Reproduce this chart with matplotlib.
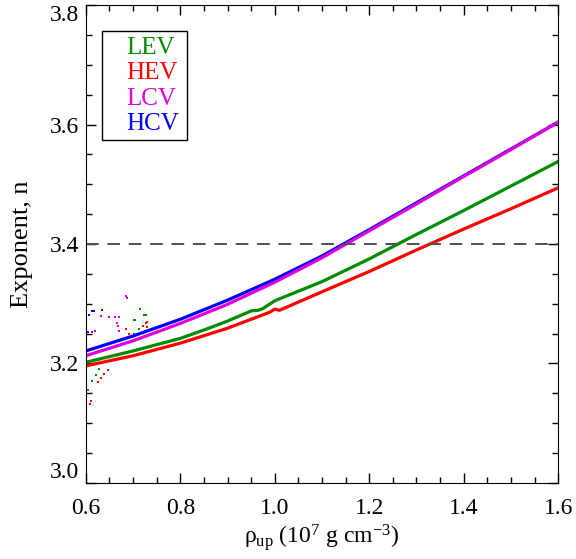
import matplotlib
matplotlib.use("Agg")
import matplotlib.pyplot as plt
from matplotlib.patches import Rectangle
from matplotlib.ticker import MultipleLocator

plt.rcParams["font.family"] = ["Liberation Serif", "DejaVu Serif"]
plt.rcParams["mathtext.fontset"] = "custom"
plt.rcParams["mathtext.rm"] = "Liberation Serif"
plt.rcParams["mathtext.it"] = "Liberation Serif:italic"

# --- data ---
hcv_x = [0.60, 0.70, 0.80, 0.90, 1.00, 1.10, 1.20, 1.30, 1.40, 1.50, 1.60]
hcv_y = [3.221, 3.246, 3.274, 3.306, 3.341, 3.380, 3.424, 3.469, 3.514, 3.559, 3.604]

lcv_x = [0.60, 0.70, 0.80, 0.90, 1.00, 1.10, 1.20, 1.30, 1.40, 1.50, 1.60]
lcv_y = [3.213, 3.238, 3.267, 3.299, 3.336, 3.377, 3.422, 3.467, 3.513, 3.558, 3.604]

lev_x = [0.60, 0.70, 0.80, 0.85, 0.90, 0.95, 0.965, 0.975, 1.00, 1.10, 1.20, 1.30, 1.40, 1.50, 1.60]
lev_y = [3.202, 3.221, 3.242, 3.256, 3.271, 3.288, 3.289, 3.292, 3.305, 3.337, 3.375, 3.416, 3.456, 3.497, 3.538]

hev_x = [0.60, 0.70, 0.80, 0.90, 0.99, 1.00, 1.01, 1.10, 1.20, 1.30, 1.40, 1.50, 1.60]
hev_y = [3.196, 3.213, 3.234, 3.259, 3.286, 3.291, 3.289, 3.320, 3.354, 3.390, 3.425, 3.459, 3.494]

# stray points at low density
hcv_dots_x = [0.604, 0.607, 0.613, 0.618, 0.634]
hcv_dots_y = [3.252, 3.282, 3.288, 3.288, 3.289]
lcv_dots_x = [0.614, 0.620, 0.633, 0.649, 0.661, 0.666, 0.668, 0.670, 0.671, 0.685, 0.687]
lcv_dots_y = [3.252, 3.255, 3.280, 3.278, 3.277, 3.268, 3.262, 3.277, 3.255, 3.313, 3.309]
lev_dots_x = [0.604, 0.614, 0.621, 0.628, 0.653, 0.702, 0.702, 0.704, 0.713, 0.714, 0.724, 0.727]
lev_dots_y = [3.155, 3.170, 3.181, 3.190, 3.213, 3.249, 3.272, 3.272, 3.257, 3.291, 3.282, 3.282]
hev_dots_x = [0.608, 0.611, 0.625, 0.632, 0.639, 0.646, 0.685, 0.692, 0.720, 0.727, 0.729, 0.730]
hev_dots_y = [3.132, 3.138, 3.169, 3.176, 3.182, 3.189, 3.257, 3.250, 3.262, 3.267, 3.261, 3.270]

N_REF = 3.4

labels = ["LEV", "HEV", "LCV", "HCV"]
colors = ["#008c00", "#ff0000", "#dd00dd", "#0000ff"]

fig = plt.figure(figsize=(5.76, 5.59), dpi=100)
ax = fig.add_axes([0.149, 0.136, 0.820, 0.855])

ax.plot(lev_x, lev_y, color=colors[0], lw=2.3)
ax.plot(hev_x, hev_y, color=colors[1], lw=2.3)
ax.plot(hcv_x, hcv_y, color=colors[3], lw=2.3)
ax.plot(lcv_x, lcv_y, color=colors[2], lw=2.3)

for dx, dy, c in [(lev_dots_x, lev_dots_y, colors[0]),
                  (hev_dots_x, hev_dots_y, colors[1]),
                  (lcv_dots_x, lcv_dots_y, colors[2]),
                  (hcv_dots_x, hcv_dots_y, colors[3])]:
    ax.scatter(dx, dy, s=3, color=c, marker="s", lw=0)

ax.axhline(N_REF, color="#505050", lw=1.4, dashes=(6.5, 4.5))

ax.set_xlim(0.6, 1.6)
ax.set_ylim(3.0, 3.8)
ax.xaxis.set_major_locator(MultipleLocator(0.2))
ax.xaxis.set_minor_locator(MultipleLocator(0.05))
ax.yaxis.set_major_locator(MultipleLocator(0.2))
ax.yaxis.set_minor_locator(MultipleLocator(0.05))
ax.xaxis.set_major_formatter(plt.FormatStrFormatter("%.1f"))
ax.yaxis.set_major_formatter(plt.FormatStrFormatter("%.1f"))
ax.tick_params(which="both", direction="in", top=True, right=True, labelsize=17)
ax.tick_params(which="major", length=7, width=1)
ax.tick_params(which="minor", length=4, width=1)
ax.tick_params(axis="x", pad=11)
ax.tick_params(axis="y", pad=5)

ax.set_xlabel(r"ρ$_{\rm up}$ (10$^7$ g cm$^{-3}$)", fontsize=17, labelpad=2)
ax.set_ylabel("Exponent, n", fontsize=19, labelpad=12)

# legend box with coloured labels
ax.add_patch(Rectangle((0.034, 0.718), 0.180, 0.228, transform=ax.transAxes,
                       fill=False, edgecolor="black", lw=1))
for i, (lab, c) in enumerate(zip(labels, colors)):
    ax.text(0.085, 0.910 - i * 0.053, lab, color=c, fontsize=18,
            transform=ax.transAxes, va="center", ha="left")

# end labels sit inside the axis range, as in the original
fig.canvas.draw()
for lbl in ax.get_yticklabels():
    if lbl.get_text() == "3.8":
        lbl.set_va("top")
    elif lbl.get_text() == "3.0":
        lbl.set_va("bottom")

fig.savefig("out.png", dpi=100)
